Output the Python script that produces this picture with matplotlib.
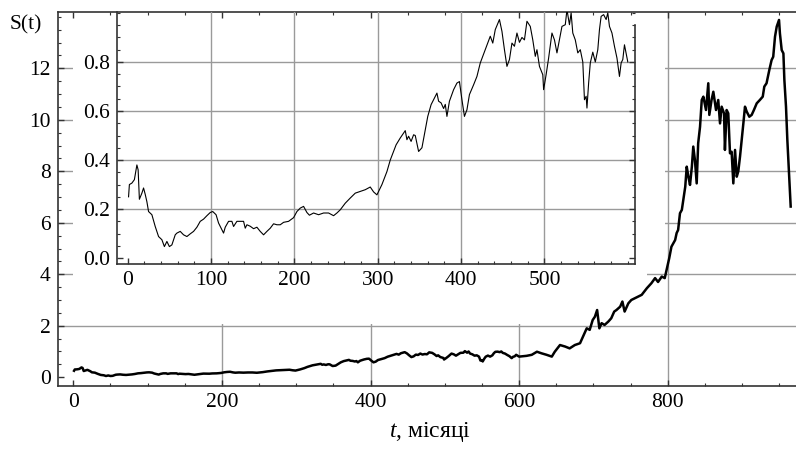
import matplotlib
matplotlib.use("Agg")
import matplotlib.pyplot as plt
from matplotlib.patches import Rectangle
from matplotlib.ticker import MultipleLocator

plt.rcParams["font.family"] = ["Liberation Serif", "DejaVu Serif"]
plt.rcParams["mathtext.fontset"] = "custom"
plt.rcParams["mathtext.it"] = "Liberation Serif:italic"
plt.rcParams["mathtext.rm"] = "Liberation Serif"

# price path S(t) (t in months)
months = [1, 2, 5, 8, 11, 12.5, 14, 17, 19, 21, 23, 25, 29, 33, 37, 41, 44, 47, 50, 53,
          55, 57, 59, 63, 67, 71, 75, 79, 83, 87, 91, 95, 99, 102, 106, 109, 112, 115, 117, 121,
          125, 127, 131, 135, 139, 141, 143, 147, 151, 155, 159, 163, 167, 171, 175, 179, 183, 187, 193, 199,
          203, 207, 211, 215, 218, 223, 229, 235, 241, 247, 251, 255, 261, 267, 273, 279, 285, 291, 295, 299,
          305, 311, 315, 319, 322, 327, 331, 333, 335, 337, 340, 343, 345, 349, 353, 357, 360, 364, 368, 371,
          373, 376, 379, 381, 383, 386, 391, 395, 398, 401, 404, 407, 410, 415, 419, 423, 429, 435, 438, 441,
          446, 449, 452, 455, 458, 461, 464, 467, 470, 473, 476, 479, 483, 486, 489, 491, 494, 498, 499, 502,
          505, 509, 512, 515, 518, 521, 525, 527, 530, 532, 534, 537, 540, 543, 546, 548, 550, 551, 553, 555,
          558, 561, 564, 566, 568, 571, 574, 576, 578, 581, 584, 587, 590, 592, 594, 596,
          600, 610, 617, 624, 630, 637, 644, 648, 655, 662, 668, 675, 682, 687, 691, 695, 699, 702, 705, 708,
          711, 715, 720, 724, 728, 731, 736, 739, 742, 747, 751, 758, 765, 772, 778, 783, 787, 792, 796, 799,
          802, 805, 810, 812, 814, 816.5, 819, 821, 823.6, 825.6, 827.8, 830, 832.5, 834.4, 836.6, 839, 841, 843.5, 845.8, 848,
          851.5, 854.6, 856, 859, 861.4, 865, 868, 870.4, 872.6, 875.8, 877, 879.3, 881.5, 883.8, 886, 888.3, 890.6, 892.9, 895, 897.3,
          899.6, 901.8, 904, 906.3, 909.8, 913, 916, 919.8, 924, 927.9, 930, 933, 936.7, 939.8, 942, 944.4, 946.7, 949.8, 951, 953.4,
          955.7, 957, 959.2, 961, 963.3, 965.5]
price = [0.25, 0.30, 0.306, 0.32, 0.38, 0.36, 0.24, 0.265, 0.286, 0.26, 0.23, 0.19, 0.177, 0.129, 0.088, 0.075, 0.047, 0.068, 0.047, 0.054,
         0.075, 0.095, 0.102, 0.109, 0.095, 0.088, 0.099, 0.109, 0.126, 0.15, 0.159, 0.173, 0.186, 0.19, 0.177, 0.143, 0.122, 0.102, 0.126, 0.15,
         0.15, 0.129, 0.15, 0.15, 0.15, 0.122, 0.136, 0.13, 0.12, 0.126, 0.109, 0.095, 0.109, 0.122, 0.14, 0.136, 0.136, 0.146, 0.15, 0.165,
         0.19, 0.204, 0.211, 0.186, 0.175, 0.184, 0.177, 0.184, 0.184, 0.173, 0.184, 0.197, 0.224, 0.245, 0.265, 0.272, 0.279, 0.29, 0.27, 0.258,
         0.30, 0.353, 0.40, 0.435, 0.462, 0.49, 0.51, 0.52, 0.483, 0.497, 0.476, 0.503, 0.50, 0.435, 0.45, 0.524, 0.578, 0.626, 0.653, 0.673,
         0.64, 0.633, 0.61, 0.627, 0.578, 0.64, 0.687, 0.714, 0.72, 0.646, 0.578, 0.605, 0.667, 0.707, 0.741, 0.796, 0.85, 0.905, 0.877, 0.932,
         0.973, 0.925, 0.85, 0.782, 0.81, 0.877, 0.864, 0.918, 0.88, 0.90, 0.89, 0.966, 0.945, 0.89, 0.823, 0.85, 0.782, 0.748, 0.687, 0.748,
         0.816, 0.918, 0.89, 0.837, 0.89, 0.945, 0.952, 1.013, 0.952, 1.0, 0.918, 0.89, 0.837, 0.85, 0.80, 0.646, 0.66, 0.612, 0.714, 0.796,
         0.84, 0.80, 0.85, 0.932, 0.986, 0.993, 0.973, 1.0, 0.945, 0.918, 0.864, 0.816, 0.741, 0.796, 0.81, 0.87,
         0.80, 0.83, 0.87, 0.99, 0.93, 0.87, 0.80, 0.99, 1.25, 1.19, 1.12, 1.25, 1.32, 1.64, 1.90, 1.84, 2.22, 2.35, 2.61, 1.90,
         2.10, 2.03, 2.16, 2.29, 2.55, 2.61, 2.74, 2.94, 2.55, 2.87, 3.0, 3.1, 3.2, 3.46, 3.65, 3.85, 3.7, 3.91, 3.85, 4.23,
         4.62, 5.07, 5.33, 5.6, 5.72, 6.37, 6.5, 6.89, 7.4, 8.18, 7.79, 7.47, 8.18, 8.96, 8.44, 7.53, 9.09, 9.73, 10.77, 10.9,
         10.38, 11.42, 10.19, 10.77, 11.09, 10.38, 10.77, 9.86, 10.51, 10.25, 8.83, 10.38, 10.25, 8.7, 8.76, 7.53, 8.83, 7.79, 8.0, 8.57,
         9.22, 9.86, 10.51, 10.32, 10.12, 10.19, 10.38, 10.64, 10.77, 10.9, 11.29, 11.42, 11.93, 12.32, 12.45, 13.23, 13.62, 13.88, 13.36, 12.71,
         12.58, 11.55, 10.51, 9.22, 7.92, 6.63]

main_xticks = [0, 200, 400, 600, 800]
main_yticks = [0, 2, 4, 6, 8, 10, 12]
inset_xticks = [0, 100, 200, 300, 400, 500]
inset_yticks = [0.0, 0.2, 0.4, 0.6, 0.8]

W, H = 796, 450
grid_c = "#9a9a9a"
spine_c = "#333333"
fs = 15.5

fig = plt.figure(figsize=(W / 100, H / 100), dpi=100)

# main axes
ax = fig.add_axes([57.7 / W, 1 - 385.7 / H, (797 - 57.7) / W, (385.7 - 11.7) / H])
ax.set_xlim(-21, 974)
ax.set_ylim(-0.33, 14.2)
for x in main_xticks[1:]:
    ax.axvline(x, color=grid_c, lw=1.0, zorder=1)
for y in main_yticks[1:]:
    ax.axhline(y, color=grid_c, lw=1.0, zorder=1)
# white background of the inset hides part of the grid
ax.add_patch(Rectangle((0, 5), 796, 10, facecolor="white", edgecolor="none", zorder=1.5))
ax.add_patch(Rectangle((0, 2.05), 772, 3.0, facecolor="white", edgecolor="none", zorder=1.5))
ax.plot(months, price, color="black", lw=1.8, zorder=2)

ax.set_xticks(main_xticks)
ax.set_yticks(main_yticks)
ax.xaxis.set_minor_locator(MultipleLocator(50))
ax.yaxis.set_minor_locator(MultipleLocator(0.5))
ax.tick_params(which="both", direction="in", top=True, right=False, color=spine_c, labelsize=fs)
ax.tick_params(which="major", length=4, width=1.0)
ax.tick_params(which="minor", length=2.2, width=0.8)
ax.tick_params(axis="x", pad=5)
ax.tick_params(axis="y", pad=5)
ax.spines["right"].set_visible(False)
for s in ["left", "bottom", "top"]:
    ax.spines[s].set_color(spine_c)
    ax.spines[s].set_linewidth(1.2)

# inset: first 600 months
ax_in = fig.add_axes([117.3 / W, 1 - 264 / H, (635.3 - 117.3) / W, (264 - 11.7) / H])
ax_in.set_facecolor("none")
ax_in.set_xlim(-12.5, 609)
ax_in.set_ylim(-0.024, 1.005)
for x in inset_xticks[1:]:
    ax_in.axvline(x, color=grid_c, lw=1.0, zorder=1)
for y in inset_yticks[1:]:
    ax_in.axhline(y, color=grid_c, lw=1.0, zorder=1)
in_t = [t for t in months if t <= 600]
in_s = price[:len(in_t)]
ax_in.plot(in_t, in_s, color="black", lw=0.8, zorder=2)
ax_in.set_xticks(inset_xticks)
ax_in.set_yticks(inset_yticks)
ax_in.set_yticklabels([f"{v:.1f}" for v in inset_yticks])
ax_in.xaxis.set_minor_locator(MultipleLocator(20))
ax_in.yaxis.set_minor_locator(MultipleLocator(0.05))
ax_in.tick_params(which="both", direction="in", top=False, right=True, color=spine_c, labelsize=fs)
ax_in.tick_params(which="major", length=4, width=1.0)
ax_in.tick_params(which="minor", length=2.2, width=0.8)
ax_in.tick_params(axis="x", pad=5)
ax_in.tick_params(axis="y", pad=5)
ax_in.spines["top"].set_visible(False)
ax_in.spines["right"].set_bounds(-0.024, 0.95)
for s in ["left", "bottom", "right"]:
    ax_in.spines[s].set_color(spine_c)
    ax_in.spines[s].set_linewidth(1.2)

fig.text(10 / W, 1 - 25 / H, "S(t)", fontsize=fs, ha="left", va="center")
fig.text(430 / W, 1 - 432 / H, r"$t$, місяці", fontsize=17, ha="center", va="center")

fig.savefig("out.png", dpi=100)
